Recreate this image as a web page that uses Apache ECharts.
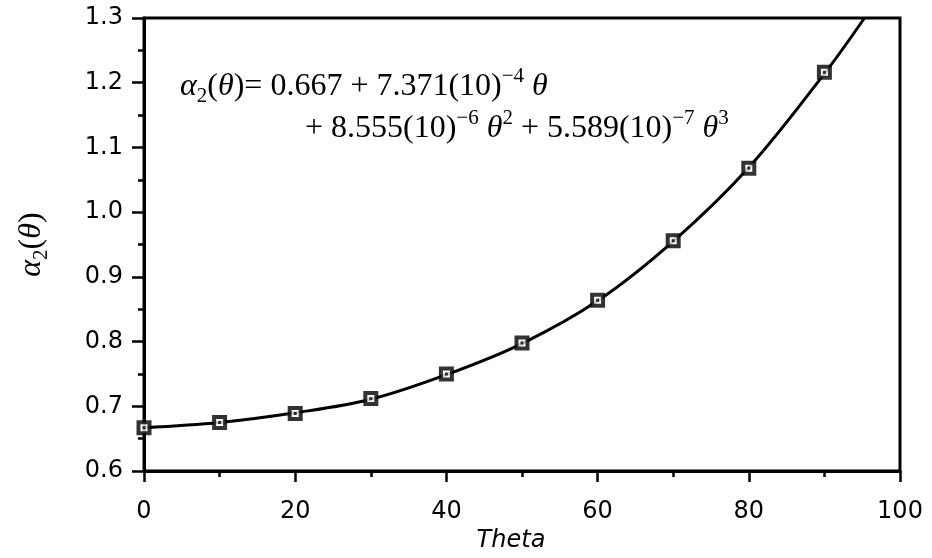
<!DOCTYPE html>
<html><head><meta charset="utf-8">
<script src="https://cdn.jsdelivr.net/npm/echarts@6/dist/echarts.min.js"></script>
<style>html,body{margin:0;padding:0;background:#fff}#c{width:932px;height:558px}</style>
</head><body><div id="c"></div>
<script>
// Data
const theta = [0, 10, 20, 30, 40, 50, 60, 70, 80, 90];
const alpha2 = [0.667, 0.675, 0.689, 0.712, 0.750, 0.798, 0.864, 0.956, 1.068, 1.216];
// Fitted curve as drawn (passes near points, leaves the top at ~95)
const curveTheta = [0, 10, 20, 30, 40, 50, 60, 70, 80, 90, 95.3];
const curveAlpha = [0.667, 0.675, 0.690, 0.711, 0.749, 0.797, 0.863, 0.955, 1.069, 1.214, 1.300];
const xMin = 0, xMax = 100, xStep = 20;
const yMin = 0.6, yMax = 1.3, yStep = 0.1;

const pts = theta.map((t, i) => [t, alpha2[i]]);
const curve = curveTheta.map((t, i) => [t, curveAlpha[i]]);

const serif = 'Liberation Serif';
const sans = 'DejaVu Sans';
const chart = echarts.init(document.getElementById('c'), null, {renderer: 'canvas'});

const rich = {
  n: {fontFamily: serif, fontSize: 32, color: '#000', verticalAlign: 'bottom', lineHeight: 44},
  i: {fontFamily: serif, fontSize: 32, fontStyle: 'italic', color: '#000', verticalAlign: 'bottom', lineHeight: 44},
  sub: {fontFamily: serif, fontSize: 21, color: '#000', verticalAlign: 'top', lineHeight: 14, padding: [27, 0, 0, 0]},
  sup: {fontFamily: serif, fontSize: 21, color: '#000', verticalAlign: 'top', lineHeight: 16, padding: [7, 0, 0, 0]}
};

chart.setOption({
  animation: false,
  backgroundColor: '#fff',
  grid: {left: 142, right: 32, top: 18, bottom: 75, show: true, borderColor: '#000', borderWidth: 3, containLabel: false},
  xAxis: {
    type: 'value', min: xMin, max: xMax, interval: xStep,
    axisLine: {show: true, lineStyle: {color: '#000', width: 3}},
    axisTick: {show: true, length: 11, lineStyle: {color: '#000', width: 2.5}},
    minorTick: {show: true, splitNumber: 2, length: 6, lineStyle: {color: '#000', width: 2.5}},
    splitLine: {show: false},
    axisLabel: {fontFamily: sans, fontSize: 24, color: '#000', margin: 29},
    name: 'Theta', nameLocation: 'middle', nameGap: 46,
    nameTextStyle: {fontFamily: sans, fontSize: 24, fontStyle: 'italic', color: '#000', padding: [0, 22, 0, 0]}
  },
  yAxis: {
    type: 'value', min: yMin, max: yMax, interval: yStep,
    axisLine: {show: true, lineStyle: {color: '#000', width: 3}},
    axisTick: {show: true, length: 12, lineStyle: {color: '#000', width: 2.5}},
    minorTick: {show: true, splitNumber: 2, length: 6, lineStyle: {color: '#000', width: 2.5}},
    splitLine: {show: false},
    axisLabel: {fontFamily: sans, fontSize: 24, color: '#000', margin: 21, formatter: v => v.toFixed(1)},
    name: '{i|α}{sub|2}{n|(}{i|θ}{n|)}', nameLocation: 'middle', nameGap: 96, nameRotate: 90,
    nameTextStyle: {rich: {
      n: {fontFamily: serif, fontSize: 32, color: '#000', verticalAlign: 'bottom', lineHeight: 40},
      i: {fontFamily: serif, fontSize: 32, fontStyle: 'italic', color: '#000', verticalAlign: 'bottom', lineHeight: 40},
      sub: {fontFamily: serif, fontSize: 21, color: '#000', verticalAlign: 'top', lineHeight: 14, padding: [23, 0, 0, 0]}
    }}
  },
  graphic: [
    {type: 'text', left: 180, top: 59, z: 10, style: {
      text: '{i|α}{sub|2}{n|(}{i|θ}{n|)= 0.667 + 7.371(10)}{sup|−4}{i| θ}', rich: rich}},
    {type: 'text', left: 305, top: 101, z: 10, style: {
      text: '{n|+ 8.555(10)}{sup|−6}{i| θ}{sup|2}{n| + 5.589(10)}{sup|−7}{i| θ}{sup|3}', rich: rich}}
  ],
  series: [
    {type: 'line', data: curve, smooth: 0.35, showSymbol: false, symbol: 'none',
     lineStyle: {color: '#000', width: 3}, z: 2, clip: true},
    {type: 'scatter', data: pts, symbol: 'rect', symbolSize: 11,
     itemStyle: {color: '#fff', borderColor: '#000', borderWidth: 4}, z: 3},
    {type: 'scatter', data: pts, symbol: 'rect', symbolSize: 3,
     itemStyle: {color: '#000'}, z: 4}
  ]
});
</script></body></html>
